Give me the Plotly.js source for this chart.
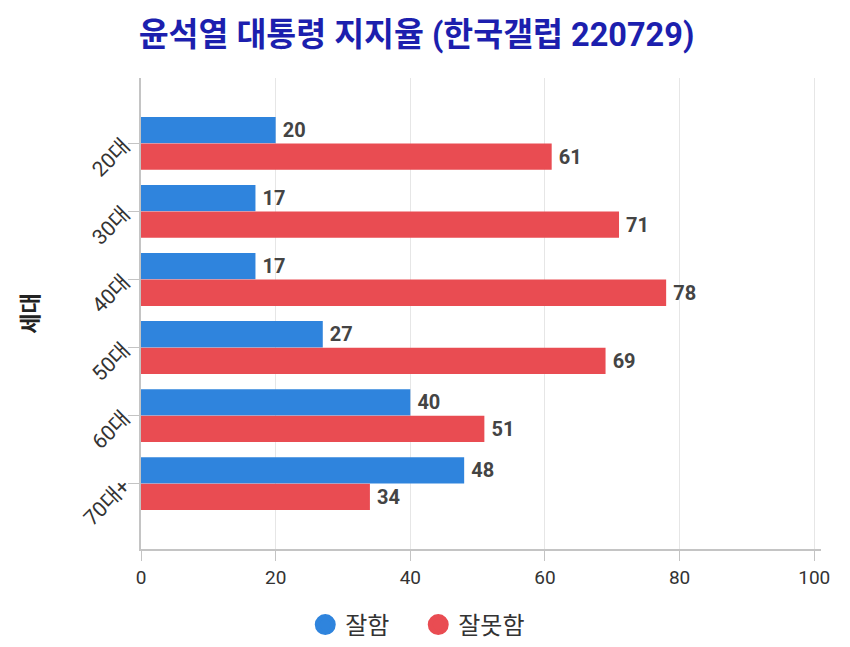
<!DOCTYPE html>
<html>
<head>
<meta charset="utf-8">
<script src="https://cdn.plot.ly/plotly-3.0.1.min.js"></script>
<style>
  html, body { margin: 0; padding: 0; background: #fff; }
  #chartDiv { width: 850px; height: 647px; }
</style>
</head>
<body>
<div id="chartDiv"></div>
<script>
// data
var ageGroups = ['20대', '30대', '40대', '50대', '60대', '70대+'];
var goodValues = [20, 17, 17, 27, 40, 48];   // 잘함
var badValues = [61, 71, 78, 69, 51, 34];    // 잘못함
var seriesNames = ['잘함', '잘못함'];
var seriesColors = ['#2f84dd', '#e94c52'];
var xTicks = [0, 20, 40, 60, 80, 100];

var fontFam = 'Roboto, "Noto Sans CJK KR", sans-serif';

var data = []; // traces get pushed below

// one bar trace per series
function addBars(values, idx) {
    data.push({
        type: 'bar',
        orientation: 'h',
        x: values,
        y: ageGroups,
        name: seriesNames[idx],
        marker: { color: seriesColors[idx] },
        text: values.map(function (v) { return '\u2009' + v; }), // thin space pushes label off the bar end
        textposition: 'outside',
        cliponaxis: false,
        textfont: { family: fontFam, size: 20, color: '#444', weight: 'bold' },
        showlegend: false,
        hoverinfo: 'x+name'
    });
}
addBars(goodValues, 0);
addBars(badValues, 1);

// round legend markers (bars would show squares)
seriesNames.forEach(function (nm, idx) {
    data.push({
        type: 'scatter',
        mode: 'markers',
        x: [null],
        y: [null],
        name: idx === 0 ? nm + '&nbsp;&nbsp;&nbsp;&nbsp;' : nm,
        marker: {
            color: seriesColors[idx], size: 16, symbol: 'circle',
            line: { color: seriesColors[idx], width: 5 }
        },
        showlegend: true,
        hoverinfo: 'skip'
    });
});

var layout = {
    width: 850,
    height: 647,
    paper_bgcolor: '#fff',
    plot_bgcolor: '#fff',
    margin: { l: 141, r: 29, t: 78, b: 98 },
    barmode: 'group',
    bargap: 0.22,
    bargroupgap: 0.01,
    font: { family: fontFam, color: '#333' },
    title: {
        text: '<b>윤석열 대통령 지지율 (한국갤럽 220729)</b>',
        font: { family: fontFam, size: 32.5, color: '#1c1fae' },
        x: 0.49,
        xanchor: 'center',
        y: 0.946,
        yanchor: 'middle'
    },
    xaxis: {
        range: [0, 101],
        tickvals: xTicks,
        ticktext: xTicks.map(String),
        showgrid: true,
        gridcolor: '#e6e6e6',
        gridwidth: 1,
        zeroline: false,
        showline: true,
        linecolor: '#c4c4c4',
        linewidth: 2,
        ticks: 'outside',
        ticklen: 10,
        tickwidth: 1,
        tickcolor: '#c4c4c4',
        tickfont: { family: fontFam, size: 19, color: '#333' },
        automargin: false,
        fixedrange: true
    },
    yaxis: {
        type: 'category',
        categoryorder: 'array',
        categoryarray: ageGroups,
        range: [5.96, -0.96],
        showgrid: false,
        zeroline: false,
        showline: true,
        linecolor: '#c4c4c4',
        linewidth: 2,
        ticks: 'outside',
        ticklen: 11,
        tickcolor: '#c4c4c4',
        tickangle: -45,
        tickfont: { family: fontFam, size: 21, color: '#333' },
        title: {
            text: '<b>세대</b>',
            font: { family: fontFam, size: 22, color: '#222' },
            standoff: 34
        },
        automargin: false,
        fixedrange: true
    },
    legend: {
        orientation: 'h',
        x: 0.407,
        xanchor: 'center',
        yref: 'container',
        y: 0.034,
        yanchor: 'middle',
        font: { family: fontFam, size: 24, color: '#333' },
        itemsizing: 'trace'
    },
    showlegend: true
};

Plotly.newPlot('chartDiv', data, layout, { displayModeBar: false, staticPlot: true });
</script>
</body>
</html>
